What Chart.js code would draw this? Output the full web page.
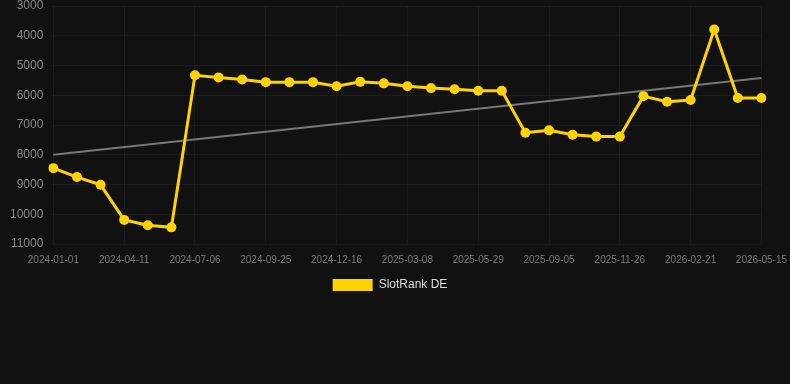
<!DOCTYPE html>
<html>
<head>
<meta charset="utf-8">
<script src="https://cdn.jsdelivr.net/npm/chart.js@4"></script>
<style>
  html, body { margin: 0; padding: 0; background: #111111; }
  #wrap { width: 790px; height: 301px; }
</style>
</head>
<body>
<div id="wrap"><canvas id="rank-chart"></canvas></div>
<script>
const DATES = [
  "2024-01-01", "2024-02-03", "2024-03-08", "2024-04-11", "2024-05-10", "2024-06-07",
  "2024-07-06", "2024-08-02", "2024-08-29", "2024-09-25", "2024-10-22", "2024-11-19",
  "2024-12-16", "2025-01-12", "2025-02-09", "2025-03-08", "2025-04-04", "2025-05-02",
  "2025-05-29", "2025-07-01", "2025-08-03", "2025-09-05", "2025-10-03", "2025-10-30",
  "2025-11-26", "2025-12-24", "2026-01-23", "2026-02-21", "2026-03-20", "2026-04-17",
  "2026-05-15",
];

const RANK_DE = [
  8450, 8750, 9010, 10190, 10370, 10440,
  5330, 5400, 5470, 5560, 5560, 5560,
  5700, 5550, 5600, 5700, 5760, 5800,
  5850, 5850, 7260, 7180, 7330, 7390,
  7390, 6030, 6220, 6160, 3790, 6090,
  6090,
];

// trend line: only the two ends are known
const TREND = [8000, ...Array(29).fill(null), 5420];

const Y_MIN = 3000;
const Y_MAX = 11000;
const GRID = "rgba(255,255,255,0.045)";

function mount() {
  const ctx = document.getElementById("rank-chart").getContext("2d");
  createChart(ctx);
}

function createChart(ctx) {
  Chart.defaults.font.family = "'Liberation Sans', Arial, sans-serif";

  const options = {
    responsive: true,
    maintainAspectRatio: false,
    animation: false,
    layout: { padding: { right: 10 } },
    scales: {
      x: {
        grid: {
          color: (c) => (c.index % 3 === 0 ? GRID : "transparent"),
          tickColor: "transparent",
          tickLength: 7,
        },
        border: { display: false },
        ticks: {
          color: "#7a7a7a",
          font: { size: 10 },
          padding: 3,
          autoSkip: false,
          maxRotation: 0,
          callback: function (value, index) {
            return index % 3 === 0 ? DATES[index] : "";
          },
        },
      },
      y: {
        reverse: true,
        min: Y_MIN,
        max: Y_MAX,
        grid: { color: GRID, tickColor: "transparent", tickLength: 10 },
        border: { display: false },
        ticks: {
          stepSize: 1000,
          color: "#8a8a8a",
          font: { size: 12, lineHeight: 1 },
          padding: 0,
          callback: (v) => String(v),
        },
        afterFit: (scale) => {
          scale.width += 10;
        },
      },
    },
    plugins: {
      legend: {
        display: true,
        position: "bottom",
        labels: {
          color: "#dddddd",
          font: { size: 12 },
          boxWidth: 40,
          boxHeight: 12,
          padding: 10,
          filter: (item) => item.text !== "trend",
          generateLabels: (chart) =>
            Chart.defaults.plugins.legend.labels
              .generateLabels(chart)
              .map((l) => Object.assign(l, { lineWidth: 0 })),
        },
      },
      tooltip: { enabled: false },
    },
  };

  const chart = new Chart(ctx, {
    type: "line",
    data: {
      labels: DATES,
      datasets: [
        {
          label: "SlotRank DE",
          data: RANK_DE,
          borderColor: "#ffd200",
          backgroundColor: "#ffd200",
          borderWidth: 3,
          pointRadius: 5,
          pointBorderWidth: 0,
          tension: 0,
        },
        {
          label: "trend",
          data: TREND,
          borderColor: "#777777",
          borderWidth: 2,
          pointRadius: 0,
          spanGaps: true,
          tension: 0,
        },
      ],
    },
    options: options,
  });

  return chart;
}

document.addEventListener("DOMContentLoaded", () => mount());
</script>
</body>
</html>
